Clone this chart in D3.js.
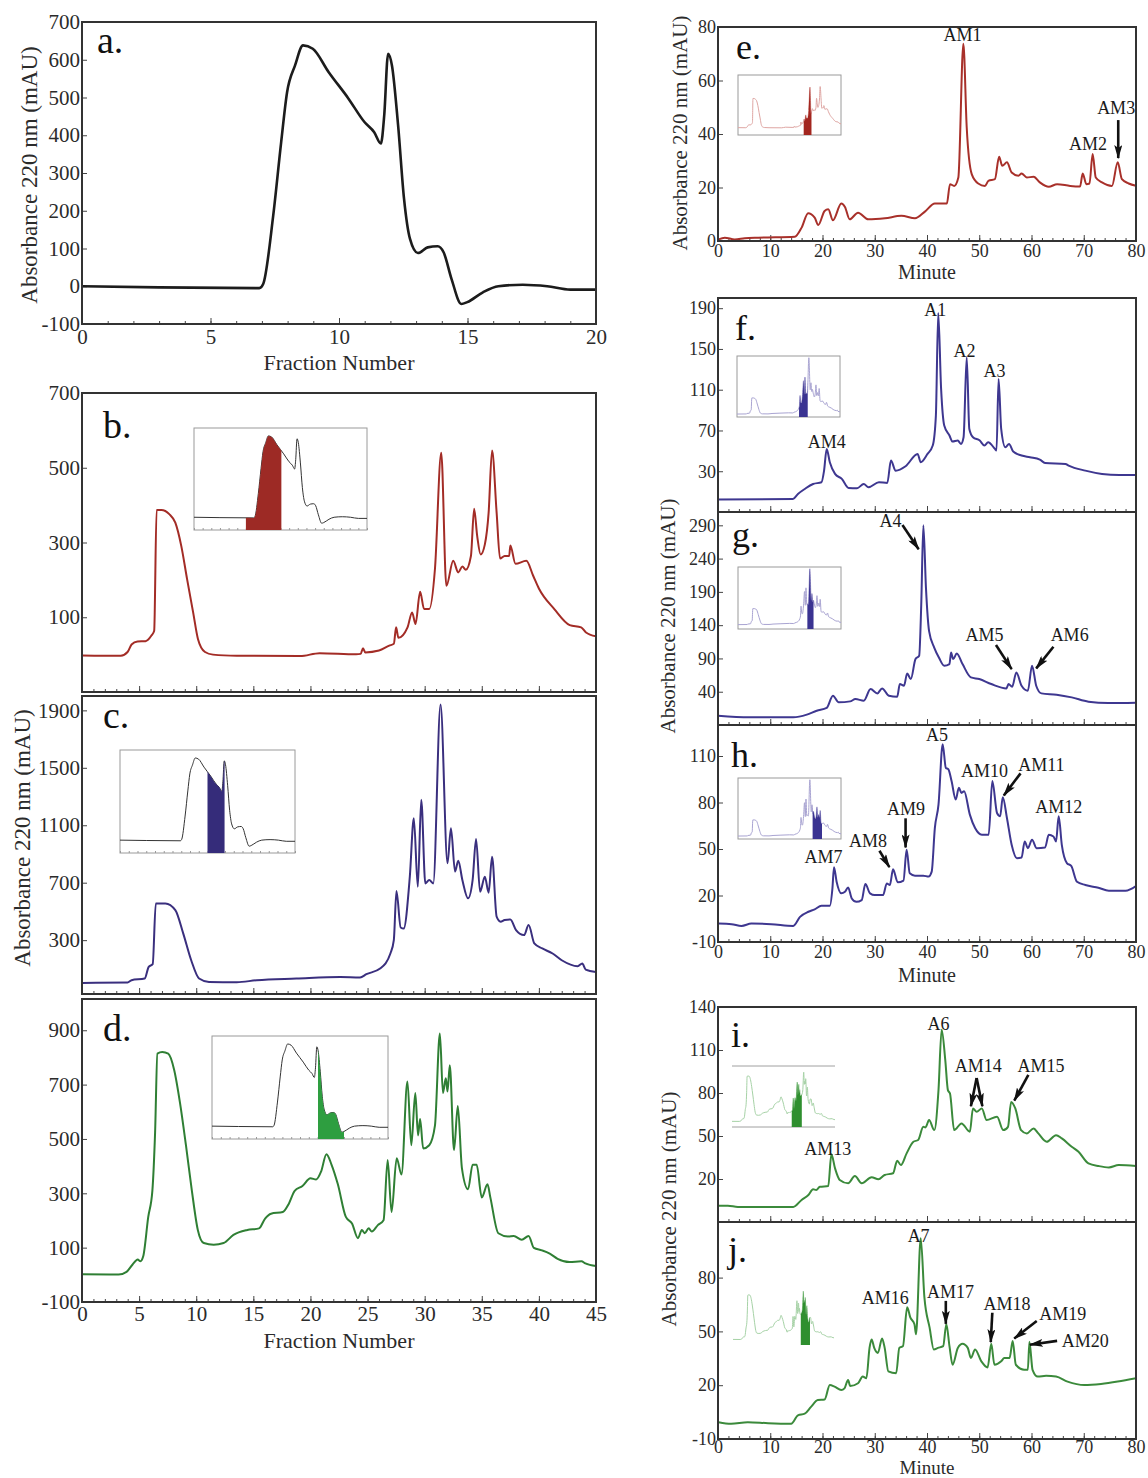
<!DOCTYPE html>
<html>
<head>
<meta charset="utf-8">
<script src="https://cdn.jsdelivr.net/npm/d3@7"></script>
<style>
  body { margin: 0; background: #fff; }
  svg { display: block; font-family: "Liberation Serif", "Times New Roman", serif; }
</style>
</head>
<body>
<div id="chart"></div>
<script>
// ---- traces: [x, absorbance mAU] ----
const aTrace = [[0,0],[3,-3],[6.9,-5],[7.05,6],[7.44,187],[7.75,382],[7.98,514],[8.29,585],[8.6,638],[8.98,629],[9.6,567],[10.37,497],[10.99,435],[11.37,408],[11.63,378],[11.76,453],[11.91,616],[12.06,585],[12.3,426],[12.53,232],[12.76,126],[13.07,88],[13.45,103],[13.84,106],[14.07,90],[14.38,19],[14.76,-47],[14.99,-42],[15.6,-16],[16.2,0],[17.15,4],[18.1,0],[19,-9],[20,-9]];

const bTrace = [[0,-2],[3.4,-3],[3.99,7],[4.34,27],[4.86,35],[5.56,36],[6.08,51],[6.32,64],[6.53,387],[6.95,387],[7.64,376],[8.17,353],[8.69,291],[9.2,202],[9.73,113],[10.15,42],[10.77,7],[11.47,0],[13.55,-3],[19.1,-4],[20.8,4],[24,1],[24.4,2],[24.6,17],[24.8,6],[26,11],[26.9,24],[27.3,29],[27.5,73],[27.7,45],[28.5,73],[28.9,113],[29.2,82],[29.6,168],[29.95,122],[30.4,122],[30.9,229],[31.45,540],[31.9,184],[32.5,251],[32.94,220],[33.3,236],[33.6,227],[34.05,264],[34.33,390],[34.6,317],[34.9,268],[35.27,295],[35.6,380],[35.9,546],[36.3,380],[36.6,257],[37,264],[37.4,264],[37.5,292],[37.95,243],[38.9,251],[39.5,211],[40,177],[41.35,122],[42.7,79],[43.7,73],[44.1,60],[45,49]];

const cTrace = [[0,2],[3.99,5],[4.34,21],[5.49,33],[5.84,114],[6.19,133],[6.46,556],[7.3,556],[8.17,509],[8.86,347],[9.56,160],[10.25,33],[11.12,9],[13.55,7],[15.3,21],[18.77,33],[22.6,44],[24.34,40],[24.9,63],[26.1,102],[27,207],[27.3,300],[27.53,642],[27.9,388],[28.16,381],[28.7,742],[29.05,1149],[29.4,672],[29.7,1277],[30.06,695],[30.4,719],[30.75,695],[31.39,1940],[32,835],[32.3,1079],[32.66,777],[32.94,853],[33.3,719],[33.8,591],[34.2,719],[34.5,1005],[34.85,637],[35.27,742],[35.6,630],[35.9,881],[36.3,463],[36.65,428],[37,440],[37.5,444],[38,370],[38.7,335],[39.1,405],[39.6,277],[40.3,242],[41.2,207],[42,160],[43.4,119],[43.8,137],[44.1,95],[45,79]];

const dTrace = [[0,2],[3.2,1],[3.9,11],[4.43,38],[4.88,56],[5.12,50],[5.36,68],[5.8,213],[6.16,309],[6.4,525],[6.6,814],[7.03,820],[7.55,814],[8.07,754],[8.58,633],[9.1,477],[9.62,309],[10.14,165],[10.66,117],[11.53,111],[12.4,117],[13.26,147],[14.47,165],[15.5,171],[16.03,207],[16.55,225],[17.58,231],[18.1,261],[18.62,309],[19.3,327],[20,355],[20.5,351],[20.94,381],[21.4,444],[21.85,405],[22.4,333],[23.1,213],[23.64,189],[24.16,135],[24.5,165],[24.75,153],[25.1,171],[25.37,159],[25.9,183],[26.4,201],[26.76,423],[27.1,231],[27.55,429],[27.97,369],[28.49,711],[28.83,477],[29.18,669],[29.42,513],[29.6,573],[29.87,465],[30.4,477],[30.9,549],[31.33,888],[31.6,669],[31.85,723],[32.0,675],[32.2,771],[32.57,459],[32.9,621],[33.26,393],[33.8,315],[34.2,405],[34.55,405],[35,285],[35.5,333],[35.75,285],[36.45,153],[37.3,141],[37.8,143],[38.5,129],[39.1,143],[39.56,99],[40.26,90],[40.95,78],[41.64,59],[42.68,47],[43.72,50],[44.07,42],[45,32]];

const eTrace = [[0.1,0.6],[1.3,1.25],[3.2,0.6],[5.1,1],[7.7,1.25],[14.7,1.6],[16,5],[17.25,10.4],[18.5,8.75],[19.2,6],[20.4,11.25],[21.1,11.9],[22,7.75],[23.6,14],[24.3,12.75],[25.2,8.1],[26.8,10.6],[28.75,8.1],[31.95,8.5],[35.1,9.4],[37.7,8.5],[39.6,11],[41.5,14],[43.8,14],[44.4,21.25],[45.2,20.6],[46,23.75],[46.96,73.75],[47.6,42.5],[48.56,25],[49.8,21.5],[51.1,20.6],[51.75,22.5],[53,23.1],[53.8,31.5],[54.4,28.1],[55.3,29.4],[56.2,25.6],[57.5,24.4],[58.1,25.25],[59.1,23.75],[60.4,24],[61.6,21.9],[63.3,20.25],[64.9,21.25],[67.4,20.6],[69.3,20.4],[69.8,25.25],[70.5,21.25],[71.1,21.5],[71.7,32.5],[72.3,23.75],[73.5,21.9],[75.4,20.6],[76.5,29.4],[77.3,23.1],[78.6,21.5],[80,20.6]];

const fTrace = [[0,2.2],[14.35,2.8],[15.3,7.7],[16.6,12.6],[18.2,17.5],[19.8,19.2],[20.3,30.6],[20.8,51.9],[21.4,38.8],[22.4,27.4],[23.7,22.5],[25,13.6],[26.6,13.3],[27.9,17.5],[28.8,14.3],[30.8,19.2],[32.4,18.5],[33.1,40.5],[34,30.6],[35.9,34.9],[38.2,47],[38.8,38.8],[40.1,47],[41.1,55.2],[41.7,84.6],[42.15,185.4],[42.7,110.8],[43.3,74.8],[44.3,65],[44.9,59.1],[45.9,60.1],[46.5,56.8],[47,63.4],[47.6,141.9],[48.1,71.5],[48.8,63.4],[50.1,60.1],[51,55.2],[51.7,58.5],[53,51.9],[53.3,50.3],[53.7,120.6],[54.2,71.5],[55,53.5],[55.7,56.8],[56.5,49.3],[58.1,45.4],[59.7,43.7],[61.6,41.4],[62.6,38.2],[66.5,37.2],[67.1,35.6],[70.3,30.6],[73.5,27.4],[76.8,26.4],[80,26.4]];

const gTrace = [[0,4],[6,1.6],[14.4,1.6],[17,5.6],[18.9,11.5],[20.8,15.6],[22,34],[23.1,24],[25.3,25.5],[26.3,29],[27.9,26.5],[29.2,44],[30.5,37.5],[31.4,45],[32.7,34],[34.3,32.5],[34.8,51.5],[35.6,49],[36.2,67.5],[36.9,59],[37.8,89],[38.5,94],[38.9,171],[39.3,290],[39.8,196],[40.4,131],[41.4,106],[42.3,91],[43.3,79],[44.3,81.5],[44.6,99],[45,89],[45.7,97.5],[46.8,81.5],[48.4,61.5],[50,59],[52.3,51.5],[55.2,45],[55.6,51.5],[56.3,47.5],[57.1,69],[58.1,49],[59.3,41.5],[60.1,79],[60.9,49],[61.9,37.5],[64.8,35.5],[67.7,31.5],[70.9,25],[74.7,23],[80,23.5]];

const hTrace = [[0.1,1.9],[2.6,1.5],[4.5,0.4],[6.4,1.9],[10.2,1.5],[14.4,0.4],[15.7,6.2],[17.3,9.5],[18.5,11],[19.8,13.4],[21.4,13.4],[21.9,24.6],[22.2,38.2],[22.7,28.9],[23.6,21.4],[24.3,22.4],[24.9,25.2],[25.6,18.1],[26.5,15.9],[27.5,17],[28.2,27.4],[29.1,21.4],[30,20.3],[31.6,20.3],[32.3,27.8],[32.9,26.8],[33.5,36.9],[34.4,28.5],[35.5,29.6],[36.1,49.5],[36.7,34.3],[37.7,32.8],[39.3,32.8],[40.3,32.2],[40.9,35.4],[41.5,63.5],[42.2,78.6],[43,117.6],[43.6,102.4],[44.1,101.4],[44.7,93.8],[45.5,81.9],[46.1,89.5],[46.6,86.2],[47.1,87.3],[48.2,72.2],[49.2,63.5],[50.5,59.2],[51.8,59.2],[52.5,93.8],[53.4,73.2],[54,71.1],[54.5,83.4],[55.3,70],[56.2,52.7],[57.2,44],[58.1,44.5],[58.7,54.9],[59.3,50.5],[60.1,55.9],[61,50.5],[62.6,51],[63.3,59.2],[64.2,58.1],[64.7,54.9],[65.2,71.1],[65.8,52.7],[66.8,40.8],[67.6,39.1],[68.7,28.9],[70.3,26.8],[72.8,25],[74.8,23.1],[78,23.1],[80,26.1]];

const iTrace = [[0.1,1.4],[1.9,1.4],[3.8,0.5],[14.4,0.5],[16,5.4],[17.3,8.8],[18.2,12.8],[18.8,12.3],[19.5,14.6],[21.1,15.1],[21.7,37.2],[22.4,27.4],[23.3,19.3],[24.9,17],[26.2,22.1],[27.5,17],[29.4,21.2],[30.7,19.8],[31.9,22.8],[33.5,24],[34.3,32.8],[35,29.7],[36.1,37.9],[37.4,46],[38.3,47.2],[39.3,56.4],[39.7,56],[40.4,61.1],[41.4,54.1],[42.2,82],[42.8,124.2],[43.5,102.9],[44,82],[44.4,79.6],[45.2,54.1],[46.6,58.8],[48.2,53],[48.8,69.2],[49.5,66.9],[50.5,69.2],[51.4,61.1],[53.4,63.4],[54.6,54.1],[55.5,56.4],[56.1,73.8],[56.9,69.2],[58,54.1],[59.1,51.8],[60.4,55.3],[61.3,51.8],[62.9,46],[64.7,50.6],[65.8,48.3],[67.7,42.5],[69,39],[70.9,30.9],[72.9,29],[74.8,28.1],[76.7,29.7],[80,29]];

const jTrace = [[0.1,-0.6],[2.5,-1.5],[5.7,-0.6],[9.6,-1.2],[14,-1.5],[15.3,3.2],[16.6,4.1],[17.8,7.9],[19.1,11.7],[20.4,12],[21.4,20.1],[22.3,19.2],[23.6,17.3],[24.2,18.2],[24.9,22.9],[25.3,19.6],[26.8,21.1],[27.7,24.8],[28.4,23.9],[29,40.8],[29.4,45.5],[29.9,40.8],[30.6,38],[31.4,46.1],[31.9,40.8],[32.6,27.7],[34.1,26.7],[34.7,40.8],[35.4,41.8],[36.2,63.4],[36.8,57.8],[37.6,54],[37.9,48.4],[38.8,102],[39.5,69.1],[40.5,52.1],[41.3,39.9],[42.1,40.8],[43.1,41.8],[43.7,54],[44.3,41.8],[44.9,31.4],[45.9,40.8],[46.8,43.1],[47.8,40.8],[48.4,35.2],[49.2,39.9],[50.4,33.3],[51.6,29.9],[52.3,43.1],[52.9,31.4],[54.2,33.3],[54.8,35.2],[55.8,35.2],[56.4,44.6],[57,31.4],[58.6,28.6],[59.3,28.6],[59.6,44.2],[60.2,28.6],[61.2,24.8],[62.8,25.2],[64.7,24.8],[66.9,22],[70.1,20.1],[73.3,20.7],[76.5,22],[80,23.9]];

// ---- tick values ----
const aYTicks = [-100, 0, 100, 200, 300, 400, 500, 600, 700];
const aXTicks = [0, 5, 10, 15, 20];
const bYTicks = [100, 300, 500, 700];
const cYTicks = [300, 700, 1100, 1500, 1900];
const dYTicks = [-100, 100, 300, 500, 700, 900];
const fractionTicks = [0, 5, 10, 15, 20, 25, 30, 35, 40, 45];
const eYTicks = [0, 20, 40, 60, 80];
const fYTicks = [30, 70, 110, 150, 190];
const gYTicks = [40, 90, 140, 190, 240, 290];
const hYTicks = [-10, 20, 50, 80, 110];
const iYTicks = [20, 50, 80, 110, 140];
const jYTicks = [-10, 20, 50, 80];
const minuteTicks = [0, 10, 20, 30, 40, 50, 60, 70, 80];

// ---- collected fractions shown as shaded areas in the insets ----
const bCut = [6.0, 10.1];
const cCut = [10.0, 11.95];
const dCut = [12.05, 15.0];
const eCut = [28.7, 32.1];
const fCut = [27.1, 30.9];
const gCut = [30.3, 33.0];
const hCut = [32.6, 36.7];
const iCut = [26.1, 30.5];
const jCut = [30.2, 34.3];

// ---- peak labels [text, minute, mAU] and arrows [x1, y1, x2, y2] ----
const eLabels = [["AM1", 46.8, 74.8], ["AM2", 70.8, 34.0], ["AM3", 76.2, 47.5]];
const eArrows = [[76.6, 45.2, 76.6, 31.0]];
const fLabels = [["AM4", 20.8, 52.8], ["A1", 41.6, 182.3], ["A2", 47.2, 142.1], ["A3", 52.9, 122.5]];
const gLabels = [["A4", 33.0, 287.5], ["AM5", 51.0, 116.2], ["AM6", 67.3, 116.2]];
const gArrows = [[35.3, 290.5, 38.4, 254], [53.2, 110.2, 56.2, 74], [64.2, 107.6, 60.9, 75]];
const hLabels = [["A5", 41.9, 119.7], ["AM10", 51.0, 96.5], ["AM11", 61.9, 100.3], ["AM12", 65.2, 73.2],
                 ["AM9", 36.0, 71.9], ["AM8", 28.7, 51.3], ["AM7", 20.2, 41.0]];
const hArrows = [[57.9, 98.8, 54.7, 84.5], [35.9, 69.8, 35.9, 51.0], [30.9, 48.9, 32.8, 38.3]];
const iLabels = [["A6", 42.2, 124.0], ["AM14", 49.8, 94.7], ["AM15", 61.8, 94.7], ["AM13", 21.0, 36.8]];
const iArrows = [[49.5, 90.5, 48.4, 70.8], [49.5, 90.5, 50.6, 70.8], [59.4, 92.6, 56.7, 74.6]];
const jLabels = [["A7", 38.4, 99.9], ["AM16", 32.0, 65.3], ["AM17", 44.5, 68.6], ["AM18", 55.3, 61.9],
                 ["AM19", 66.0, 56.4], ["AM20", 70.3, 41.3]];
const jArrows = [[43.6, 67.0, 43.6, 54.2], [52.5, 60.4, 52.2, 44.0], [61.0, 55.8, 56.7, 46.0], [64.9, 44.7, 59.7, 42.6]];

const FONT = '"Liberation Serif", "Times New Roman", serif';
const plain = d => String(d);   // keep "-100", no thousands separator

const svg = d3.select("#chart").append("svg")
  .attr("width", 1148)
  .attr("height", 1478);

svg.append("defs").append("marker")
  .attr("id", "arrow")
  .attr("viewBox", "0 0 14 8")
  .attr("refX", 13).attr("refY", 4)
  .attr("markerWidth", 14).attr("markerHeight", 8)
  .attr("markerUnits", "userSpaceOnUse")
  .attr("orient", "auto")
  .append("path")
  .attr("d", "M0,0 L14,4 L0,8 L3,4 Z")
  .attr("fill", "#111");

let clipCount = 0;

function styleAxis(sel, fs) {
  sel.select(".domain").remove();
  sel.selectAll("line").attr("stroke", "#444");
  sel.selectAll("text").attr("font-size", fs).attr("font-family", FONT).attr("fill", "#2b2b2b");
}

function drawInset(ins) {
  const x = d3.scaleLinear().domain(ins.xDomain).range([ins.left, ins.right]);
  const y = d3.scaleLinear().domain(ins.yDomain).range([ins.bottom, ins.top]);
  const g = svg.append("g");

  if (ins.frame === "box") {
    g.append("rect")
      .attr("x", ins.left).attr("y", ins.top)
      .attr("width", ins.right - ins.left).attr("height", ins.bottom - ins.top)
      .attr("fill", "#fff").attr("stroke", "#9a9a9a").attr("stroke-width", 1);
  } else if (ins.frame === "lines") {
    [ins.top, ins.bottom].forEach(v => g.append("line")
      .attr("x1", ins.left).attr("x2", ins.right).attr("y1", v).attr("y2", v)
      .attr("stroke", "#a0a0a0").attr("stroke-width", 1));
  }
  if (ins.ticks) {
    const ax = g.append("g").attr("transform", `translate(0,${ins.bottom})`)
      .call(d3.axisBottom(x).tickValues(d3.range(ins.xDomain[0], ins.xDomain[1] + 0.01, ins.ticks)).tickSize(-2).tickFormat(""));
    ax.select(".domain").remove();
    ax.selectAll("line").attr("stroke", "#999");
  }

  const line = d3.line().x(d => x(d[0])).y(d => y(d[1])).curve(d3.curveMonotoneX);
  g.append("path").datum(ins.trace)
    .attr("d", line)
    .attr("fill", "none")
    .attr("stroke", ins.lineColor)
    .attr("stroke-width", ins.lineWidth || 1);

  const id = "clip" + (clipCount++);
  svg.append("clipPath").attr("id", id).append("rect")
    .attr("x", x(ins.cut[0])).attr("y", ins.top)
    .attr("width", x(ins.cut[1]) - x(ins.cut[0])).attr("height", ins.bottom - ins.top);

  const area = d3.area().x(d => x(d[0])).y0(ins.bottom).y1(d => y(d[1])).curve(d3.curveMonotoneX);
  g.append("path").datum(ins.trace)
    .attr("d", area)
    .attr("clip-path", `url(#${id})`)
    .attr("fill", ins.fill);
}

function drawPanel(p) {
  const x = d3.scaleLinear().domain(p.xDomain).range([p.left, p.right]);
  const y = d3.scaleLinear().domain(p.yDomain).range([p.bottom, p.top]);
  const g = svg.append("g");

  // y axis, ticks pointing inward
  const ya = g.append("g").attr("transform", `translate(${p.left},0)`)
    .call(d3.axisLeft(y).tickValues(p.yTicks).tickSize(-5).tickPadding(2).tickFormat(plain));
  styleAxis(ya, p.fs);

  // x axis: minor ticks, then major ticks with or without labels
  const xm = g.append("g").attr("transform", `translate(0,${p.bottom})`)
    .call(d3.axisBottom(x).tickValues(d3.range(p.xDomain[0], p.xDomain[1] + 0.01, p.minor)).tickSize(-3).tickFormat(""));
  styleAxis(xm, p.fs);
  const xa = g.append("g").attr("transform", `translate(0,${p.bottom})`)
    .call(d3.axisBottom(x).tickValues(p.xTicks).tickSize(-6).tickPadding(p.xPad)
      .tickFormat(p.xLabels ? plain : ""));
  styleAxis(xa, p.fs);

  const id = "clip" + (clipCount++);
  svg.append("clipPath").attr("id", id).append("rect")
    .attr("x", p.left).attr("y", p.top)
    .attr("width", p.right - p.left).attr("height", p.bottom - p.top);

  const line = d3.line().x(d => x(d[0])).y(d => y(d[1])).curve(d3.curveMonotoneX);
  g.append("path").datum(p.trace)
    .attr("d", line)
    .attr("clip-path", `url(#${id})`)
    .attr("fill", "none")
    .attr("stroke", p.color)
    .attr("stroke-width", p.width || 2)
    .attr("stroke-linejoin", "round");

  g.append("rect")
    .attr("x", p.left).attr("y", p.top)
    .attr("width", p.right - p.left).attr("height", p.bottom - p.top)
    .attr("fill", "none").attr("stroke", "#333").attr("stroke-width", 2);

  g.append("text")
    .attr("x", p.letter[1]).attr("y", p.letter[2])
    .attr("font-size", p.letterSize).attr("fill", "#111")
    .text(p.letter[0]);

  (p.labels || []).forEach(([t, xv, yv]) => g.append("text")
    .attr("x", x(xv)).attr("y", y(yv))
    .attr("text-anchor", "middle")
    .attr("font-size", 18).attr("fill", "#1a1a1a")
    .text(t));

  (p.arrows || []).forEach(([x1, y1, x2, y2]) => g.append("line")
    .attr("x1", x(x1)).attr("y1", y(y1)).attr("x2", x(x2)).attr("y2", y(y2))
    .attr("stroke", "#111").attr("stroke-width", 2.6)
    .attr("marker-end", "url(#arrow)"));

  if (p.inset) drawInset(p.inset);
}

// ---- left column: size-exclusion fractions ----
const L = { left: 82, right: 596 };
drawPanel({ ...L, top: 22, bottom: 324, xDomain: [0, 20], yDomain: [-100, 700], trace: aTrace,
  color: "#1c1c1c", width: 2.6, yTicks: aYTicks, xTicks: aXTicks, minor: 1, xLabels: true, xPad: 5, fs: 21,
  letter: ["a.", 97, 53], letterSize: 38 });

drawPanel({ ...L, top: 393, bottom: 692, xDomain: [0, 45], yDomain: [-100, 700], trace: bTrace,
  color: "#a32c26", yTicks: bYTicks, xTicks: fractionTicks, minor: 1, xLabels: false, xPad: 5, fs: 21,
  letter: ["b.", 103, 438], letterSize: 38,
  inset: { left: 194, right: 367, top: 428, bottom: 530, xDomain: [0, 20], yDomain: [-100, 700],
    trace: aTrace, lineColor: "#333", cut: bCut, fill: "#9d2a25", frame: "box", ticks: 1 } });

drawPanel({ ...L, top: 696, bottom: 994, xDomain: [0, 45], yDomain: [-75, 2000], trace: cTrace,
  color: "#3a2f7e", yTicks: cYTicks, xTicks: fractionTicks, minor: 1, xLabels: false, xPad: 5, fs: 21,
  letter: ["c.", 103, 728], letterSize: 38,
  inset: { left: 120, right: 295, top: 750, bottom: 853, xDomain: [0, 20], yDomain: [-100, 700],
    trace: aTrace, lineColor: "#333", cut: cCut, fill: "#352c7a", frame: "box", ticks: 1 } });

drawPanel({ ...L, top: 999, bottom: 1302, xDomain: [0, 45], yDomain: [-100, 1015], trace: dTrace,
  color: "#2f7f34", yTicks: dYTicks, xTicks: fractionTicks, minor: 1, xLabels: true, xPad: 4, fs: 21,
  letter: ["d.", 103, 1041], letterSize: 38,
  inset: { left: 212, right: 388, top: 1036, bottom: 1139, xDomain: [0, 20], yDomain: [-100, 700],
    trace: aTrace, lineColor: "#333", cut: dCut, fill: "#2e9e40", frame: "box", ticks: 1 } });

// ---- right column: HPLC runs ----
const R = { left: 718, right: 1136 };
const insetR = { left: 738, right: 841 };
drawPanel({ ...R, top: 27, bottom: 241, xDomain: [0, 80], yDomain: [0, 80], trace: eTrace,
  color: "#a8302a", yTicks: eYTicks, xTicks: minuteTicks, minor: 2, xLabels: true, xPad: 3, fs: 18,
  letter: ["e.", 736, 59], letterSize: 36, labels: eLabels, arrows: eArrows,
  inset: { ...insetR, top: 75, bottom: 135, xDomain: [0, 45], yDomain: [-100, 700],
    trace: bTrace, lineColor: "#dfa6a3", cut: eCut, fill: "#a3261f", frame: "box" } });

drawPanel({ ...R, top: 298, bottom: 512, xDomain: [0, 80], yDomain: [-10, 200], trace: fTrace,
  color: "#3e3790", yTicks: fYTicks, xTicks: minuteTicks, minor: 2, xLabels: false, xPad: 3, fs: 18,
  letter: ["f.", 735, 340], letterSize: 36, labels: fLabels,
  inset: { left: 737, right: 840, top: 356, bottom: 417, xDomain: [0, 45], yDomain: [-100, 2000],
    trace: cTrace, lineColor: "#a9a4d2", cut: fCut, fill: "#3a3391", frame: "box" } });

drawPanel({ ...R, top: 512, bottom: 725, xDomain: [0, 80], yDomain: [-10, 310], trace: gTrace,
  color: "#3e3790", yTicks: gYTicks, xTicks: minuteTicks, minor: 2, xLabels: false, xPad: 3, fs: 18,
  letter: ["g.", 732, 547], letterSize: 36, labels: gLabels, arrows: gArrows,
  inset: { ...insetR, top: 567, bottom: 629, xDomain: [0, 45], yDomain: [-150, 2000],
    trace: cTrace, lineColor: "#a9a4d2", cut: gCut, fill: "#3a3391", frame: "box" } });

drawPanel({ ...R, top: 725, bottom: 942, xDomain: [0, 80], yDomain: [-10, 130], trace: hTrace,
  color: "#3e3790", yTicks: hYTicks, xTicks: minuteTicks, minor: 2, xLabels: true, xPad: 3, fs: 18,
  letter: ["h.", 731, 767], letterSize: 36, labels: hLabels, arrows: hArrows,
  inset: { ...insetR, top: 778, bottom: 839, xDomain: [0, 45], yDomain: [-100, 2000],
    trace: cTrace, lineColor: "#a9a4d2", cut: hCut, fill: "#3a3391", frame: "box" } });

drawPanel({ ...R, top: 1007, bottom: 1222, xDomain: [0, 80], yDomain: [-10, 140], trace: iTrace,
  color: "#3b8a3b", yTicks: iYTicks, xTicks: minuteTicks, minor: 2, xLabels: false, xPad: 3, fs: 18,
  letter: ["i.", 731, 1047], letterSize: 36, labels: iLabels, arrows: iArrows,
  inset: { left: 732, right: 835, top: 1066, bottom: 1127, xDomain: [0, 45], yDomain: [-100, 1000],
    trace: dTrace, lineColor: "#a6d2a6", cut: iCut, fill: "#2f8f2f", frame: "lines" } });

drawPanel({ ...R, top: 1222, bottom: 1439, xDomain: [0, 80], yDomain: [-10, 111], trace: jTrace,
  color: "#3b8a3b", yTicks: jYTicks, xTicks: minuteTicks, minor: 2, xLabels: true, xPad: 1, fs: 18,
  letter: ["j.", 728, 1262], letterSize: 36, labels: jLabels, arrows: jArrows,
  inset: { left: 733, right: 834, top: 1285, bottom: 1345, xDomain: [0, 45], yDomain: [-100, 1000],
    trace: dTrace, lineColor: "#a6d2a6", cut: jCut, fill: "#2f8f2f", frame: "none" } });

// ---- axis titles ----
const yTitle = "Absorbance 220 nm (mAU)";
[[37, 175, 23], [30, 838, 23], [687, 133, 21], [675, 616, 21], [676, 1209, 21]].forEach(([tx, ty, fs]) =>
  svg.append("text")
    .attr("transform", `translate(${tx},${ty}) rotate(-90)`)
    .attr("text-anchor", "middle")
    .attr("font-size", fs).attr("fill", "#2b2b2b")
    .text(yTitle));

[["Fraction Number", 339, 370, 22], ["Fraction Number", 339, 1348, 22],
 ["Minute", 927, 279, 20], ["Minute", 927, 982, 20], ["Minute", 927, 1473.5, 19]].forEach(([t, tx, ty, fs]) =>
  svg.append("text")
    .attr("x", tx).attr("y", ty)
    .attr("text-anchor", "middle")
    .attr("font-size", fs).attr("fill", "#2b2b2b")
    .text(t));
</script>
</body>
</html>
